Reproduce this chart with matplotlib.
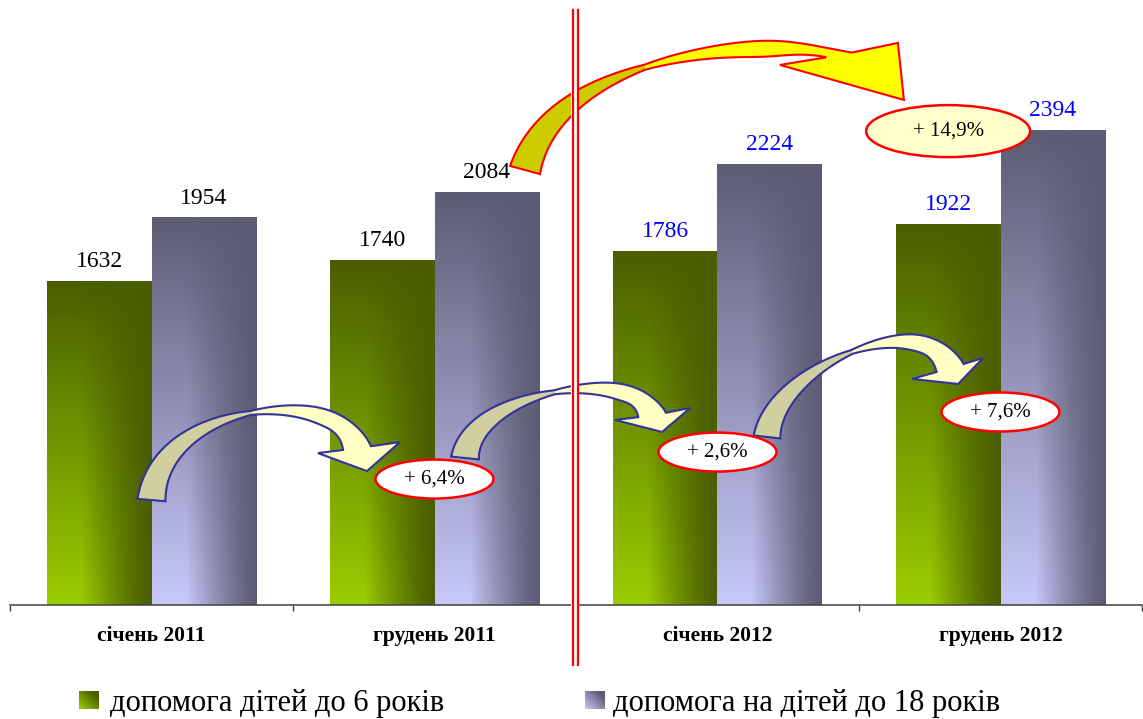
import numpy as np
import matplotlib
matplotlib.use("Agg")
import matplotlib.pyplot as plt
from matplotlib.patches import Ellipse, Polygon
from matplotlib.lines import Line2D
from matplotlib.transforms import IdentityTransform

# ---------------- data ----------------
categories = ["січень 2011", "грудень 2011", "січень 2012", "грудень 2012"]
kids_under6 = [1632, 1740, 1786, 1922]
kids_under18 = [1954, 2084, 2224, 2394]
series_names = ["допомога дітей до 6 років", "допомога на дітей до 18 років"]
value_colors = ["black", "black", "blue", "blue"]
growth_labels = ["+ 6,4%", "+ 2,6%", "+ 7,6%"]
total_growth_label = "+ 14,9%"

plt.rcParams['font.family'] = ['Liberation Serif', 'DejaVu Serif']

W, H = 1143, 719
fig = plt.figure(figsize=(W / 100, H / 100), dpi=100)
ax = fig.add_axes([10 / W, 114 / H, 1132 / W, 605 / H])
ax.set_xlim(-0.5, 3.5)
ax.set_ylim(0, 3050)
for s in ['top', 'left', 'right']:
    ax.spines[s].set_visible(False)
ax.spines['bottom'].set_color('#404040')
ax.spines['bottom'].set_linewidth(1.1)
ax.set_yticks([])
ax.patch.set_alpha(0)

GREEN_DARK = np.array([0x4a, 0x5e, 0x00]) / 255
GREEN_LIGHT = np.array([0x9a, 0xcd, 0x00]) / 255
PURP_DARK = np.array([0x5c, 0x5c, 0x74]) / 255
PURP_LIGHT = np.array([0xc8, 0xc8, 0xfa]) / 255


def bar_gradient(dark, light, nx=80, ny=300):
    xf = np.linspace(0, 1, nx)[None, :]
    yf = np.linspace(0, 1, ny)[:, None]
    h = np.clip(1 - (xf - 0.33) / 0.67, 0, 1) ** 1.3
    h = np.where(xf < 0.33, 1.0, h)
    v = 1 - yf
    f = (v * h)[..., None]
    return dark + f * (light - dark)


def corner_gradient(dark, light, n=40):
    xf = np.linspace(0, 1, n)[None, :]
    yf = np.linspace(0, 1, n)[:, None]
    f = (1 - (xf + yf) / 2)[..., None]
    f = np.clip((f - 0.2) / 0.8, 0, 1)
    return dark + f * (light - dark)


bw = 0.3675
x = np.arange(len(categories))
bars1 = ax.bar(x - bw / 2, kids_under6, width=bw, facecolor='none', edgecolor='none', zorder=2)
bars2 = ax.bar(x + bw / 2, kids_under18, width=bw, facecolor='none', edgecolor='none', zorder=2)
g_img = bar_gradient(GREEN_DARK, GREEN_LIGHT)
p_img = bar_gradient(PURP_DARK, PURP_LIGHT)
for bars, img in ((bars1, g_img), (bars2, p_img)):
    for p in bars:
        x0, y0 = p.get_x(), p.get_y()
        im = ax.imshow(img, extent=[x0, x0 + p.get_width(), y0, y0 + p.get_height()],
                       origin='lower', aspect='auto', interpolation='bilinear', zorder=1)
        im.set_clip_path(p)
ax.set_xlim(-0.5, 3.5)
ax.set_ylim(0, 3050)

# value labels
for i in range(len(categories)):
    for bars, vals in ((bars1, kids_under6), (bars2, kids_under18)):
        p = bars[i]
        ax.annotate(str(vals[i]), (p.get_x() + p.get_width() / 2, vals[i]),
                    xytext=(0, 10), textcoords='offset points', ha='center', va='baseline',
                    fontsize=17, color=value_colors[i], zorder=4)

# category ticks
ax.set_xticks(x)
ax.set_xticklabels(categories, fontsize=15.5, fontweight='bold')
ax.tick_params(axis='x', which='major', length=0, pad=15)
ax.set_xticks([-0.5, 0.5, 1.5, 2.5, 3.5], minor=True)
ax.tick_params(axis='x', which='minor', length=4.3, width=1.0, color='#404040', direction='out')

# ---------------- curved arrows ----------------
def bez(P, t):
    P0, P1, P2, P3 = P
    mt = 1 - t
    return ((mt ** 3)[:, None] * P0 + (3 * mt ** 2 * t)[:, None] * P1
            + (3 * mt * t ** 2)[:, None] * P2 + (t ** 3)[:, None] * P3)


def bez_d(P, t):
    P0, P1, P2, P3 = P
    mt = 1 - t
    return ((3 * mt ** 2)[:, None] * (P1 - P0) + (6 * mt * t)[:, None] * (P2 - P1)
            + (3 * t ** 2)[:, None] * (P3 - P2))


def curved_arrow(ctrl, w0, wm, w1, tm, wing1, wing2, tip, c_back, c_front, ec, lw, z=5):
    P = ax.transData.transform(np.array(ctrl, dtype=float))
    t = np.linspace(0, 1, 300)
    B = bez(P, t)
    D = bez_d(P, t)
    T = D / np.linalg.norm(D, axis=1)[:, None]
    N = np.column_stack([-T[:, 1], T[:, 0]])
    wing1 = np.array(wing1, float)
    wing2 = np.array(wing2, float)
    tip = np.array(tip, float)
    wd = (wing2 - wing1) / np.linalg.norm(wing2 - wing1)
    s = np.clip((t - 0.65) / 0.35, 0, 1)
    s = s * s * (3 - 2 * s)
    N = (1 - s)[:, None] * N + s[:, None] * wd[None, :]
    N = N / np.linalg.norm(N, axis=1)[:, None]
    w = np.where(t < tm, wm + (w0 - wm) * (1 - t / tm), wm + (w1 - wm) * (t - tm) / (1 - tm))
    L = B + (w / 2)[:, None] * N
    R = B - (w / 2)[:, None] * N
    end = P[3]
    head = [end + wing2, end + tip, end + wing1]
    k = np.searchsorted(t, tm)
    back = np.vstack([L[:k + 1], R[:k + 1][::-1]])
    front = np.vstack([L[k:], head, R[k:][::-1]])
    outline = np.vstack([L, head, R[::-1]])
    for poly, c in ((back, c_back), (front, c_front)):
        ax.add_patch(Polygon(poly, closed=True, facecolor=c, edgecolor=c, lw=0.3,
                             transform=IdentityTransform(), clip_on=False, zorder=z))
    ax.add_patch(Polygon(outline, closed=True, facecolor='none', edgecolor=ec, lw=lw,
                         joinstyle='miter', transform=IdentityTransform(), clip_on=False, zorder=z + 0.1))


BLUE_EDGE = '#333399'
# arrow control points in data coordinates (category units, value units)
curved_arrow([(0.0, 529), (0.030, 1033), (0.666, 1109), (0.726, 791)],
             28, 4, 28, 0.5, (-39, -5), (43, 6), (10, -23),
             '#cfcf9f', '#ffffc4', BLUE_EDGE, 1.5)
curved_arrow([(1.108, 741), (1.133, 1084), (1.708, 1210), (1.769, 958)],
             28, 4, 28, 0.5, (-37, -5), (38, 7), (10, -17),
             '#cfcf9f', '#ffffc4', BLUE_EDGE, 1.5)
curved_arrow([(2.175, 847), (2.203, 1210), (2.733, 1512), (2.822, 1195)],
             27, 4, 28, 0.5, (-38, -11), (33, 10), (8, -16),
             '#cfcf9f', '#ffffc4', BLUE_EDGE, 1.5)
curved_arrow([(1.320, 2193), (1.426, 2747), (2.079, 2873), (2.429, 2773)],
             31, 5, 26, 0.47, (-59, -10), (59, 12), (65, -45),
             '#cccc00', '#ffff00', 'red', 1.5)

# ---------------- growth ellipses ----------------
px_x = 283.0
px_y = 605.0 / 3050.0


def ellipse_label(cx, cy, wpx, hpx, text, face):
    e = Ellipse((cx, cy), wpx / px_x, hpx / px_y, facecolor=face, edgecolor='red',
                lw=1.8, zorder=7, clip_on=False)
    ax.add_patch(e)
    ax.text(cx, cy, text, ha='center', va='center', fontsize=15, color='black', zorder=8)


ellipse_pos = [(1.0, 635), (2.0, 771), (3.0, 973)]
for (cx, cy), lab in zip(ellipse_pos, growth_labels):
    ellipse_label(cx, cy, 118, 39, lab, 'white')
ellipse_label(2.815, 2389, 164, 52, total_growth_label, '#ffffcc')

# ---------------- red double separator ----------------
fig.canvas.draw()
xs = ax.transData.transform((1.5, 0))[0] - 0.7
y_top, y_bot = H - 10, H - 665
fig.add_artist(Line2D([xs, xs], [y_bot, y_top], color='white', lw=5.8,
                      transform=IdentityTransform(), zorder=20))
for dx in (-2.6, 2.6):
    fig.add_artist(Line2D([xs + dx, xs + dx], [y_bot, y_top], color='red', lw=1.6,
                          transform=IdentityTransform(), zorder=21))

# ---------------- legend ----------------
leg_items = [(79, 110, GREEN_DARK, GREEN_LIGHT), (585, 613, PURP_DARK, PURP_LIGHT)]
for (px0, tx0, dark, light), name in zip(leg_items, series_names):
    lax = fig.add_axes([px0 / W, (H - 709) / H, 20 / W, 18 / H])
    lax.imshow(corner_gradient(dark, light), origin='lower', aspect='auto',
               interpolation='bilinear', extent=[0, 1, 0, 1])
    lax.set_axis_off()
    fig.text(tx0 / W, (H - 711) / H, name, fontsize=22, va='baseline', ha='left')

fig.savefig('out.png', dpi=100)
